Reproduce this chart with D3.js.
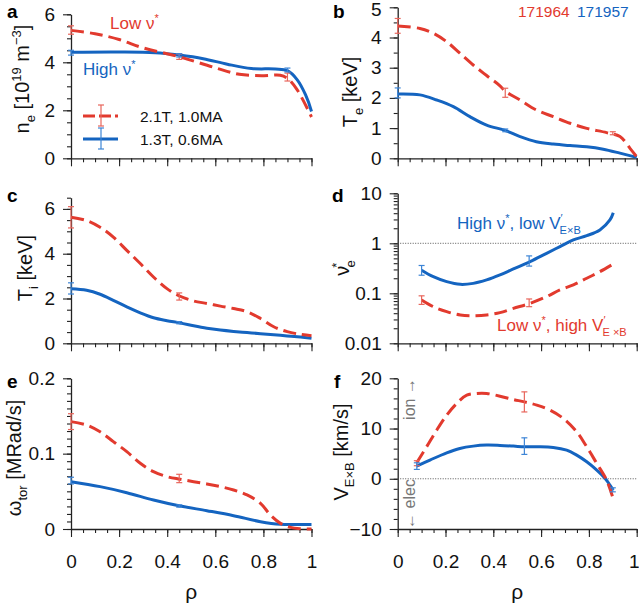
<!DOCTYPE html>
<html><head><meta charset="utf-8">
<script src="https://cdn.jsdelivr.net/npm/d3@7"></script>
<style>body{margin:0;background:#fff} text{font-family:"Liberation Sans",Arial,Helvetica,sans-serif}</style>
</head><body><svg id="chart" width="639" height="610"></svg>
<script>
const RED = "#e23a2e", BLUE = "#1464c0", RED_E = "#e8665c", BLUE_E = "#3d85d6";

// ---- data: [rho, value] ----
const neLow  = [[0,5.33],[0.1,5.19],[0.2,4.95],[0.3,4.6],[0.45,4.23],[0.6,3.77],[0.7,3.5],[0.8,3.44],[0.87,3.46],[0.9,3.33],[0.94,2.86],[1.0,1.72]];
const neHigh = [[0,4.42],[0.2,4.43],[0.35,4.4],[0.45,4.3],[0.55,4.15],[0.65,3.92],[0.75,3.74],[0.85,3.72],[0.9,3.65],[0.94,3.28],[0.975,2.65],[1.0,1.95]];
const neLowErr  = [[0,5.17,5.52],[0.45,4.12,4.35],[0.9,3.22,3.55]];
const neHighErr = [[0,4.3,4.5],[0.45,4.22,4.36],[0.9,3.6,3.76]];

const teLow  = [[0,4.38],[0.093,4.3],[0.149,4.14],[0.205,3.86],[0.26,3.48],[0.316,3.09],[0.372,2.74],[0.428,2.4],[0.45,2.22],[0.512,1.93],[0.58,1.6],[0.651,1.38],[0.721,1.16],[0.791,0.99],[0.874,0.85],[0.93,0.72],[0.972,0.33],[1.0,0.05]];
const teHigh = [[0,2.13],[0.093,2.1],[0.163,1.93],[0.233,1.71],[0.302,1.38],[0.372,1.1],[0.45,0.92],[0.512,0.72],[0.58,0.55],[0.651,0.47],[0.721,0.42],[0.791,0.38],[0.86,0.3],[0.93,0.17],[1.0,0.03]];
const teLowErr  = [[0,4.14,4.63],[0.45,2.02,2.32],[0.9,0.78,0.88]];
const teHighErr = [[0,2.0,2.33],[0.45,0.88,0.97]];

const tiLow  = [[0,5.63],[0.065,5.48],[0.121,5.18],[0.176,4.74],[0.232,4.15],[0.288,3.56],[0.343,2.96],[0.399,2.44],[0.454,2.1],[0.51,1.89],[0.565,1.78],[0.621,1.66],[0.676,1.55],[0.732,1.41],[0.788,1.11],[0.843,0.74],[0.899,0.52],[0.954,0.4],[1.0,0.34]];
const tiHigh = [[0,2.44],[0.065,2.37],[0.121,2.19],[0.176,1.92],[0.232,1.63],[0.288,1.36],[0.343,1.14],[0.399,1.01],[0.454,0.91],[0.51,0.78],[0.565,0.67],[0.621,0.59],[0.676,0.53],[0.732,0.48],[0.788,0.43],[0.843,0.38],[0.899,0.33],[0.954,0.28],[1.0,0.23]];
const tiLowErr  = [[0,5.15,6.1],[0.45,1.93,2.25]];
const tiHighErr = [[0,2.2,2.7],[0.45,0.87,0.97]];

const nuLow  = [[0.1,0.0736],[0.149,0.054],[0.205,0.043],[0.262,0.0369],[0.316,0.0357],[0.372,0.0369],[0.428,0.041],[0.484,0.05],[0.554,0.063],[0.623,0.0857],[0.679,0.117],[0.735,0.147],[0.791,0.2],[0.846,0.271],[0.902,0.386]];
const nuHigh = [[0.1,0.29],[0.149,0.215],[0.205,0.171],[0.262,0.151],[0.316,0.158],[0.372,0.185],[0.428,0.233],[0.484,0.307],[0.554,0.43],[0.623,0.63],[0.679,0.86],[0.735,1.17],[0.791,1.42],[0.846,1.85],[0.888,2.93],[0.902,4.1]];
const nuLowErr  = [[0.1,0.06,0.089],[0.55,0.054,0.077]];
const nuHighErr = [[0.1,0.23,0.36],[0.55,0.35,0.56]];

const wLow  = [[0,0.1425],[0.065,0.138],[0.121,0.129],[0.176,0.116],[0.232,0.1027],[0.288,0.0872],[0.343,0.0761],[0.399,0.0695],[0.454,0.066],[0.51,0.0628],[0.565,0.0598],[0.621,0.0562],[0.676,0.0518],[0.732,0.0452],[0.788,0.034],[0.829,0.0186],[0.871,0.0075],[0.913,0.0022],[0.954,0.0004],[1.0,0.0]];
const wHigh = [[0,0.0628],[0.121,0.0562],[0.232,0.0482],[0.343,0.0385],[0.454,0.0305],[0.565,0.0243],[0.676,0.0177],[0.788,0.0097],[0.871,0.0062],[0.954,0.006],[1.0,0.006]];
const wLowErr  = [[0,0.132,0.153],[0.45,0.0615,0.0726]];
const wHighErr = [[0,0.0598,0.0687],[0.45,0.029,0.032]];

const vLow  = [[0.0795,3.18],[0.121,6.36],[0.163,9.68],[0.205,12.66],[0.247,14.99],[0.289,16.64],[0.331,16.98],[0.372,16.98],[0.428,16.44],[0.484,15.78],[0.531,15.3],[0.582,14.65],[0.637,13.66],[0.693,12.0],[0.749,9.35],[0.791,6.36],[0.833,3.05],[0.874,-0.26],[0.902,-4.04]];
const vHigh = [[0.0795,2.52],[0.135,3.72],[0.205,5.17],[0.26,6.04],[0.316,6.5],[0.372,6.7],[0.428,6.64],[0.484,6.5],[0.531,6.36],[0.582,6.36],[0.651,6.24],[0.707,5.7],[0.749,4.71],[0.791,3.38],[0.833,1.73],[0.868,0.07],[0.888,-1.25],[0.902,-2.25]];
const vLowErr  = [[0.08,2.6,3.6],[0.53,13.3,17.3]];
const vHighErr = [[0.08,1.86,3.18],[0.53,4.85,8.15],[0.9,-2.6,-1.8]];

const xMajorTicks = [0,0.2,0.4,0.6,0.8,1];
const legendLabels = ["2.1T, 1.0MA","1.3T, 0.6MA"];
const shotLabels = ["171964","171957"];

// ---- drawing ----
const svg = d3.select("#chart");
const FS_TICK = 19, FS_LAB = 20;

function rich(sel, parts, size) {
  let cur = 0;
  parts.forEach(p => {
    const [s, k, dx] = p;
    const target = k === 1 ? size * 0.32 : k === 2 ? -size * 0.42 : 0;
    const ts = sel.append("tspan").text(s).attr("dy", target - cur).attr("font-size", k ? size * 0.65 : size);
    if (dx) ts.attr("dx", dx);
    cur = target;
  });
}

function fmtNum(d) { return d < 0 ? "\u2212" + Math.abs(d) : String(d); }

function panel(c) {
  const g = svg.append("g");
  const x = d3.scaleLinear().domain([0, 1]).range([c.x0, c.x1]);
  const y = (c.log ? d3.scaleLog() : d3.scaleLinear()).domain(c.dom).range([c.yB, c.yT]);
  // x axis
  const xMinor = d3.range(0, 21).map(i => +(i * 0.05).toFixed(2));
  const gx = g.append("g").attr("transform", `translate(0,${c.yB})`);
  gx.call(d3.axisBottom(x).tickValues(xMinor).tickSize(4).tickSizeOuter(0).tickFormat(""));
  const gx2 = g.append("g").attr("transform", `translate(0,${c.yB})`);
  gx2.call(d3.axisBottom(x).tickValues(xMajorTicks).tickSize(8).tickSizeOuter(0).tickPadding(18)
     .tickFormat(c.xLabels ? (d => String(d)) : ""));
  gx2.select(".domain").remove();
  if (c.xLabels && c.x1 > 630) gx2.selectAll(".tick text").filter(d => d === 1).attr("dx", -3);
  // y axis
  const gy = g.append("g").attr("transform", `translate(${c.x0},0)`);
  gy.call(d3.axisLeft(y).tickValues(c.minor).tickSize(4).tickSizeOuter(0).tickFormat(""));
  const gy2 = g.append("g").attr("transform", `translate(${c.x0},0)`);
  gy2.call(d3.axisLeft(y).tickValues(c.major).tickSize(8).tickSizeOuter(0).tickPadding(8).tickFormat(fmtNum));
  gy2.select(".domain").remove();
  if (c.topNudge) gy2.selectAll(".tick text").filter(d => d === c.dom[1]).attr("dy", "0.42em");
  g.selectAll(".domain").attr("stroke", "#222").attr("stroke-width", 1.3);
  g.selectAll(".tick line").attr("stroke", "#222").attr("stroke-width", 1.1);
  g.selectAll(".tick text").attr("font-size", FS_TICK).attr("fill", "#111")
   .attr("font-family", '"Liberation Sans",Arial,sans-serif');
  // reference line
  if (c.ref !== undefined) {
    g.append("line").attr("x1", c.x0).attr("x2", c.x1).attr("y1", y(c.ref)).attr("y2", y(c.ref))
     .attr("stroke", "#444").attr("stroke-width", 0.9).attr("stroke-dasharray", "1,1.5");
  }
  const line = d3.line().x(d => x(d[0])).y(d => y(d[1])).curve(d3.curveCatmullRom.alpha(0.5));
  g.append("path").datum(c.high).attr("d", line).attr("fill", "none").attr("stroke", BLUE).attr("stroke-width", 3);
  g.append("path").datum(c.low).attr("d", line).attr("fill", "none").attr("stroke", RED).attr("stroke-width", 3).attr("stroke-dasharray", "13,6");
  function errs(data, col) {
    data.forEach(([r, lo, hi]) => {
      const xx = x(r);
      g.append("line").attr("x1", xx).attr("x2", xx).attr("y1", y(lo)).attr("y2", y(hi)).attr("stroke", col).attr("stroke-width", 1.2);
      [lo, hi].forEach(v => g.append("line").attr("x1", xx - 3).attr("x2", xx + 3).attr("y1", y(v)).attr("y2", y(v)).attr("stroke", col).attr("stroke-width", 1.2));
    });
  }
  errs(c.lowErr, RED_E);
  errs(c.highErr, BLUE_E);
  // y label
  const yl = g.append("text").attr("transform", `translate(${c.labX},${c.labY}) rotate(-90)`)
    .attr("text-anchor", "middle").attr("fill", "#111");
  rich(yl, c.ylab, FS_LAB);
  // panel letter
  g.append("text").attr("x", c.letX).attr("y", c.letY).attr("font-weight", "bold").attr("font-size", 19).text(c.letter);
  if (c.xLabels) {
    g.append("text").attr("x", (c.x0 + c.x1) / 2).attr("y", 599).attr("text-anchor", "middle")
     .attr("font-size", 21).attr("fill", "#111").text("\u03c1");
  }
  return {g, x, y};
}

const step = (a, b, s) => d3.range(Math.round((b - a) / s) + 1).map(i => +(a + i * s).toFixed(4));
const logMinor = [];
[0.01, 0.1, 1].forEach(dec => { for (let k = 1; k <= 9; k++) logMinor.push(+(k * dec).toPrecision(3)); });
logMinor.push(10);

const A = panel({letter:"a", letX:7, letY:18, x0:71, x1:311.5, yB:158.3, yT:14.3, dom:[0,6], major:[0,2,4,6], minor:step(0,6,0.5),
  low:neLow, high:neHigh, lowErr:neLowErr, highErr:neHighErr, labX:29, labY:79,
  ylab:[["n"],["e",1],[" [10",0],["19",2],[" m",0],["\u22123",2],["]",0]]});
const B = panel({letter:"b", letX:333, letY:18, x0:397.7, x1:636.7, yB:158.3, yT:7.3, dom:[0,5], major:[0,1,2,3,4,5], minor:step(0,5,0.5), topNudge:true,
  low:teLow, high:teHigh, lowErr:teLowErr, highErr:teHighErr, labX:357, labY:92,
  ylab:[["T"],["e",1],[" [keV]",0]]});
const C = panel({letter:"c", letX:7, letY:202, x0:71, x1:311.5, yB:343.3, yT:343.3 - 6.5 * 22.4, dom:[0,6.5], major:[0,2,4,6], minor:step(0,6.5,0.5),
  low:tiLow, high:tiHigh, lowErr:tiLowErr, highErr:tiHighErr, labX:32, labY:268,
  ylab:[["T"],["i",1],[" [keV]",0]]});
const D = panel({letter:"d", letX:332, letY:202, x0:397.7, x1:636.7, yB:343.3, yT:193.3, dom:[0.01,10], log:true, major:[0.01,0.1,1,10], minor:logMinor,
  low:nuLow, high:nuHigh, lowErr:nuLowErr, highErr:nuHighErr, labX:349, labY:268, ref:1,
  ylab:[["\u03bd"],["*",2,-2],["e",1,-5]]});
const E = panel({letter:"e", letX:7, letY:388, x0:71, x1:311.5, yB:529, yT:378.3, dom:[0,0.2], major:[0,0.1,0.2], minor:step(0,0.2,0.01),
  low:wLow, high:wHigh, lowErr:wLowErr, highErr:wHighErr, labX:21, labY:458, xLabels:true,
  ylab:[["\u03c9"],["tor",1],[" [MRad/s]",0]]});
const F = panel({letter:"f", letX:334, letY:388, x0:397.7, x1:636.7, yB:529, yT:378.3, dom:[-10,20], major:[-10,0,10,20], minor:step(-10,20,2),
  low:vLow, high:vHigh, lowErr:vLowErr, highErr:vHighErr, labX:348, labY:452, ref:0, xLabels:true,
  ylab:[["V"],["E\u00d7B",1],[" [km/s]",0]]});

// annotations panel a
function note(g, x, y, col, parts, size) {
  const t = g.append("text").attr("x", x).attr("y", y).attr("fill", col);
  rich(t, parts, size);
}
note(A.g, 110, 29, RED, [["Low \u03bd"],["*",2]], 17);
note(A.g, 83, 75, BLUE, [["High \u03bd"],["*",2]], 17);
// legend
[[RED, "13,6", RED_E, 116, legendLabels[0]], [BLUE, null, BLUE_E, 139, legendLabels[1]]].forEach(([col, dash, ecol, yy, lab]) => {
  const l = A.g.append("line").attr("x1", 83).attr("x2", 118).attr("y1", yy).attr("y2", yy).attr("stroke", col).attr("stroke-width", 3);
  if (dash) l.attr("stroke-dasharray", "12,4");
  A.g.append("line").attr("x1", 101).attr("x2", 101).attr("y1", yy - 11).attr("y2", yy + 10).attr("stroke", ecol).attr("stroke-width", 1.2);
  [yy - 11, yy + 10].forEach(v => A.g.append("line").attr("x1", 98).attr("x2", 104).attr("y1", v).attr("y2", v).attr("stroke", ecol).attr("stroke-width", 1.2));
  A.g.append("text").attr("x", 140).attr("y", yy + 5.5).attr("font-size", 15.5).attr("fill", "#111").text(lab);
});
// shots panel b
B.g.append("text").attr("x", 518).attr("y", 17).attr("font-size", 15.5).attr("fill", RED).text(shotLabels[0]);
B.g.append("text").attr("x", 577).attr("y", 17).attr("font-size", 15.5).attr("fill", BLUE).text(shotLabels[1]);
// panel d notes
note(D.g, 457, 229, BLUE, [["High \u03bd"],["*",2],[", low V",0],["\u2032",2],["E\u00d7B",1,-3]], 17);
note(D.g, 497, 331, RED, [["Low \u03bd"],["*",2],[", high V",0],["\u2032",2],["E \u00d7B",1,-3]], 17);
// panel f notes
F.g.append("text").attr("transform", "translate(415,399) rotate(-90)").attr("text-anchor", "middle")
  .attr("font-size", 16).attr("fill", "#777").text("ion \u2192");
F.g.append("text").attr("transform", "translate(415,504) rotate(-90)").attr("text-anchor", "middle")
  .attr("font-size", 16).attr("fill", "#777").text("\u2190 elec");
</script></body></html>
